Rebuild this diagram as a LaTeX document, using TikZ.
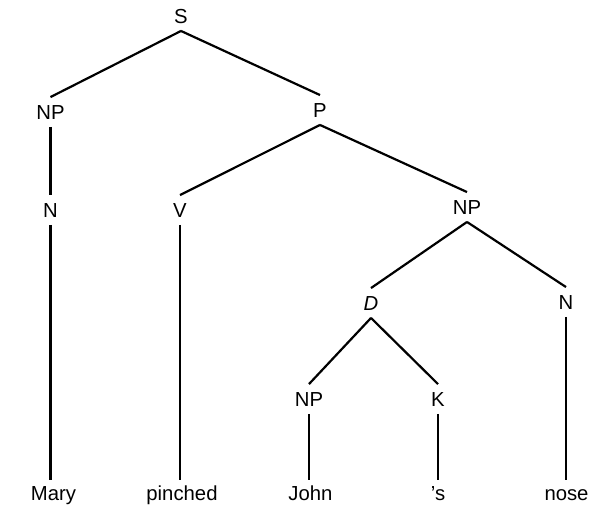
\documentclass[tikz,border=0pt]{standalone}
\usepackage{fontspec}
\setmainfont{Liberation Sans}
\begin{document}
\begin{tikzpicture}[x=1pt,y=-1pt,
  lbl/.style={inner xsep=0pt, inner ysep=7.5pt, text height=14.5pt, text depth=0pt,
              font=\fontsize{20.3pt}{23pt}\selectfont},
  edge/.style={line width=2.2pt, line cap=butt}]
\useasboundingbox (0,0) rectangle (593,512);
% internal nodes
\node[lbl] (S)   at (181,16)  {S};
\node[lbl] (NPa) at (50.5,112)  {NP};
\node[lbl] (P)   at (320,110) {P};
\node[lbl] (Na)  at (50.5,210)  {N};
\node[lbl] (V)   at (180,210) {V};
\node[lbl] (NPb) at (467,207) {NP};
\node[lbl] (D)   at (371,303) {\itshape D};
\node[lbl] (Nb)  at (566,302) {N};
\node[lbl] (NPc) at (309,399) {NP};
\node[lbl] (K)   at (438,399) {K};
% leaves
\node[lbl,inner ysep=6.5pt] (Mary)    at (53.5,493.5) {Mary};
\node[lbl,inner ysep=6.5pt] (pinched) at (182,493.5)  {pinched};
\node[lbl,inner ysep=6.5pt] (John)    at (310.5,493.5) {John};
\node[lbl,inner ysep=6.5pt] (s)       at (438,493.5)  {’s};
\node[lbl,inner ysep=6.5pt] (nose)    at (566.5,493.5) {nose};
% edges
\draw[edge] (S.south) -- (NPa.north);
\draw[edge] (S.south) -- (P.north);
\draw[edge] (NPa.south) -- (Na.north);
\draw[edge] (P.south) -- (V.north);
\draw[edge] (P.south) -- (NPb.north);
\draw[edge] (NPb.south) -- (D.north);
\draw[edge] (NPb.south) -- (Nb.north);
\draw[edge] (D.south) -- (NPc.north);
\draw[edge] (D.south) -- (K.north);
\draw[edge] (Na.south) -- (Na.south |- Mary.north);
\draw[edge] (V.south) -- (V.south |- pinched.north);
\draw[edge] (NPc.south) -- (NPc.south |- John.north);
\draw[edge] (K.south) -- (K.south |- s.north);
\draw[edge] (Nb.south) -- (Nb.south |- nose.north);
\end{tikzpicture}
\end{document}
